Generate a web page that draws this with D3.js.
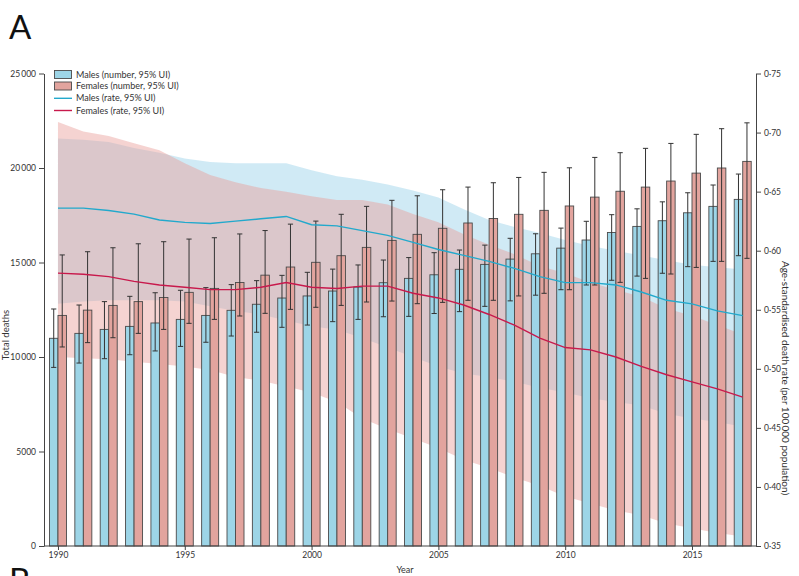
<!DOCTYPE html>
<html>
<head>
<meta charset="utf-8">
<script src="https://cdn.jsdelivr.net/npm/d3@7"></script>
<style>
  body { margin: 0; background: #fff; }
  svg { display: block; font-family: Lato, "Noto Sans", sans-serif; }
</style>
</head>
<body>
<svg id="chart" width="799" height="576"></svg>
<script>
// Years on the x axis
const years = [1990, 1991, 1992, 1993, 1994, 1995, 1996, 1997, 1998, 1999,
               2000, 2001, 2002, 2003, 2004, 2005, 2006, 2007, 2008, 2009,
               2010, 2011, 2012, 2013, 2014, 2015, 2016, 2017];
const yearTicks = [1990, 1995, 2000, 2005, 2010, 2015];

// Total deaths, males (estimate and 95% UI)
const maleDeaths = [10990, 11250, 11460, 11620, 11800, 11990, 12200, 12470, 12790, 13120,
                    13230, 13490, 13700, 13930, 14160, 14350, 14640, 14900, 15180, 15460,
                    15760, 16190, 16590, 16910, 17210, 17630, 17970, 18340];
const maleDeathsLower = [9450, 9680, 9910, 10120, 10320, 10560, 10780, 11110, 11310, 11570,
                         11690, 11870, 11990, 12130, 12150, 12300, 12400, 12680, 12970, 13270,
                         13560, 13810, 14060, 14280, 14430, 14780, 15060, 15360];
const maleDeathsUpper = [12540, 12750, 12930, 13210, 13400, 13530, 13670, 13830, 14040, 14320,
                         14480, 14650, 14870, 15130, 15260, 15520, 15660, 15920, 16280, 16520,
                         16820, 17180, 17530, 17840, 18210, 18690, 19100, 19680];

// Total deaths, females (estimate and 95% UI)
const femaleDeaths = [12200, 12480, 12730, 12930, 13150, 13420, 13630, 13940, 14330, 14760,
                      15010, 15360, 15800, 16170, 16490, 16810, 17090, 17330, 17550, 17760,
                      17990, 18460, 18770, 18990, 19310, 19730, 20000, 20350];
const femaleDeathsLower = [10530, 10760, 11020, 11250, 11460, 11780, 11990, 12170, 12310, 12520,
                           12630, 12730, 12910, 12960, 12820, 12890, 13000, 13000, 13230, 13370,
                           13560, 13810, 13950, 14160, 14390, 14740, 15060, 15220];
const femaleDeathsUpper = [15400, 15570, 15780, 15990, 16100, 16240, 16310, 16510, 16690, 17030,
                           17190, 17550, 17970, 18290, 18530, 18850, 18990, 19220, 19500, 19770,
                           20010, 20560, 20810, 21040, 21300, 21780, 22080, 22390];

// Age-standardised death rate per 100 000, males
const maleRate = [0.636, 0.636, 0.634, 0.631, 0.626, 0.624, 0.623, 0.625, 0.627, 0.629,
                  0.622, 0.621, 0.617, 0.613, 0.607, 0.601, 0.596, 0.591, 0.585, 0.578,
                  0.573, 0.573, 0.571, 0.565, 0.558, 0.555, 0.549, 0.545];
const maleRateLower = [0.555, 0.557, 0.558, 0.558, 0.558, 0.557, 0.553, 0.549, 0.546, 0.541,
                       0.536, 0.533, 0.526, 0.518, 0.510, 0.502, 0.496, 0.493, 0.489, 0.484,
                       0.480, 0.475, 0.472, 0.469, 0.462, 0.458, 0.455, 0.451];
const maleRateUpper = [0.695, 0.694, 0.692, 0.687, 0.683, 0.678, 0.675, 0.674, 0.674, 0.674,
                       0.668, 0.663, 0.660, 0.656, 0.651, 0.645, 0.635, 0.626, 0.620, 0.615,
                       0.609, 0.604, 0.600, 0.596, 0.592, 0.588, 0.586, 0.584];

// Age-standardised death rate per 100 000, females
const femaleRate = [0.581, 0.580, 0.578, 0.574, 0.571, 0.569, 0.567, 0.567, 0.569, 0.573,
                    0.569, 0.568, 0.570, 0.570, 0.564, 0.560, 0.554, 0.546, 0.537, 0.526,
                    0.518, 0.516, 0.510, 0.502, 0.495, 0.489, 0.483, 0.476];
const femaleRateLower = [0.510, 0.509, 0.508, 0.506, 0.504, 0.502, 0.499, 0.493, 0.490, 0.485,
                         0.480, 0.472, 0.458, 0.449, 0.441, 0.433, 0.423, 0.416, 0.408, 0.401,
                         0.392, 0.386, 0.380, 0.376, 0.369, 0.365, 0.361, 0.358];
const femaleRateUpper = [0.709, 0.701, 0.697, 0.691, 0.685, 0.674, 0.664, 0.658, 0.653, 0.650,
                         0.646, 0.643, 0.643, 0.639, 0.631, 0.624, 0.614, 0.605, 0.597, 0.587,
                         0.581, 0.573, 0.567, 0.561, 0.551, 0.545, 0.537, 0.529];

// Axis ticks
const deathTicks = [0, 5000, 10000, 15000, 20000, 25000];
const rateTicks = [0.35, 0.40, 0.45, 0.50, 0.55, 0.60, 0.65, 0.70, 0.75];

// Legend entries
const legendItems = [
  { label: "Males (number, 95% UI)", kind: "box", key: "male" },
  { label: "Females (number, 95% UI)", kind: "box", key: "female" },
  { label: "Males (rate, 95% UI)", kind: "line", key: "male" },
  { label: "Females (rate, 95% UI)", kind: "line", key: "female" }
];

const colors = {
  maleBar: "#9dd5e7", femaleBar: "#e2a49e",
  maleBand: "rgb(150,208,232)", femaleBand: "rgb(233,158,154)",
  maleLine: "#22a9cc", femaleLine: "#c8194c",
  barStroke: "#4a4a4a", err: "#333", axis: "#444", text: "#333"
};

const svg = d3.select("#chart");
const plot = { left: 44, right: 756, top: 73.5, bottom: 546 };

const xBand = d3.scaleBand().domain(years)
  .range([45.3, 755.4]).paddingInner(0.33).paddingOuter(0.165);
const half = xBand.bandwidth() / 2;
const xYear = d3.scaleLinear().domain([years[0], years[years.length - 1]])
  .range([xBand(years[0]) + half, xBand(years[years.length - 1]) + half]);
const yDeaths = d3.scaleLinear().domain([0, 25000]).range([plot.bottom, plot.top]);
const yRate = d3.scaleLinear().domain([0.35, 0.75]).range([plot.bottom, plot.top]);

// Uncertainty bands for the rates
function band(lower, upper) {
  return d3.area()
    .x((d, i) => xYear(years[i]))
    .y0((d, i) => yRate(lower[i]))
    .y1((d, i) => yRate(upper[i]))(years);
}
svg.append("path").attr("d", band(maleRateLower, maleRateUpper))
  .attr("fill", colors.maleBand).attr("fill-opacity", 0.45);
svg.append("path").attr("d", band(femaleRateLower, femaleRateUpper))
  .attr("fill", colors.femaleBand).attr("fill-opacity", 0.45);

// Bars
const series = [
  { vals: maleDeaths, lo: maleDeathsLower, hi: maleDeathsUpper, fill: colors.maleBar, off: 0 },
  { vals: femaleDeaths, lo: femaleDeathsLower, hi: femaleDeathsUpper, fill: colors.femaleBar, off: half }
];
series.forEach(s => {
  svg.append("g").selectAll("rect").data(years).join("rect")
    .attr("x", d => xBand(d) + s.off)
    .attr("width", half)
    .attr("y", (d, i) => yDeaths(s.vals[i]))
    .attr("height", (d, i) => yDeaths(0) - yDeaths(s.vals[i]))
    .attr("fill", s.fill)
    .attr("stroke", colors.barStroke).attr("stroke-width", 0.9);
});

// Error bars
series.forEach(s => {
  const g = svg.append("g").attr("stroke", colors.err).attr("stroke-width", 1).attr("fill", "none");
  years.forEach((yr, i) => {
    const cx = xBand(yr) + s.off + half / 2;
    const y1 = yDeaths(s.lo[i]), y2 = yDeaths(s.hi[i]);
    g.append("line").attr("x1", cx).attr("x2", cx).attr("y1", y1).attr("y2", y2);
    g.append("line").attr("x1", cx - 2.6).attr("x2", cx + 2.6).attr("y1", y1).attr("y2", y1);
    g.append("line").attr("x1", cx - 2.6).attr("x2", cx + 2.6).attr("y1", y2).attr("y2", y2);
  });
});

// Rate lines
function rateLine(vals) {
  return d3.line().x((d, i) => xYear(years[i])).y((d, i) => yRate(vals[i]))(years);
}
svg.append("path").attr("d", rateLine(maleRate)).attr("fill", "none")
  .attr("stroke", colors.maleLine).attr("stroke-width", 1.4);
svg.append("path").attr("d", rateLine(femaleRate)).attr("fill", "none")
  .attr("stroke", colors.femaleLine).attr("stroke-width", 1.4);

// Axes
function styleAxis(g) {
  g.selectAll("path, line").attr("stroke", colors.axis).attr("stroke-width", 1);
  g.selectAll("text").attr("fill", colors.text).style("font-size", "8.5px")
    .style("font-family", "Lato, 'Noto Sans', sans-serif");
}
const fmtDeaths = d => d >= 10000 ? d3.format(",")(d).replace(",", "\u2009") : String(d);
svg.append("g").attr("transform", `translate(${plot.left},0)`)
  .call(d3.axisLeft(yDeaths).tickValues(deathTicks).tickSize(5).tickSizeOuter(0).tickFormat(fmtDeaths))
  .call(styleAxis);
svg.append("g").attr("transform", `translate(${plot.right},0)`)
  .call(d3.axisRight(yRate).tickValues(rateTicks).tickSize(5).tickSizeOuter(0)
    .tickFormat(d => d3.format(".2f")(d).replace(".", "\u00b7")))
  .call(styleAxis);
svg.append("line").attr("x1", plot.left).attr("x2", plot.right)
  .attr("y1", plot.bottom).attr("y2", plot.bottom)
  .attr("stroke", colors.axis).attr("stroke-width", 1);
const xAxis = svg.append("g").attr("transform", `translate(0,${plot.bottom})`)
  .call(d3.axisBottom(xYear).tickValues(yearTicks).tickSize(4).tickSizeOuter(0).tickFormat(d3.format("d")))
  .call(styleAxis);
xAxis.select(".domain").remove();
xAxis.selectAll("text").attr("dy", "0.6em");

// Axis titles
svg.append("text").attr("x", 405).attr("y", 573).attr("text-anchor", "middle")
  .attr("fill", colors.text).style("font-size", "9px").text("Year");
svg.append("text").attr("transform", "translate(9,335) rotate(-90)").attr("text-anchor", "middle")
  .attr("fill", colors.text).style("font-size", "9.5px").text("Total deaths");
svg.append("text").attr("transform", "translate(782,378) rotate(90)").attr("text-anchor", "middle")
  .attr("fill", colors.text).style("font-size", "10px")
  .text("Age-standardised death rate (per 100\u2009000 population)");

// Panel letters
svg.append("text").attr("x", 9).attr("y", 39).attr("fill", "#111")
  .style("font-size", "33px").text("A");
svg.append("text").attr("x", 9).attr("y", 592).attr("fill", "#111")
  .style("font-size", "33px").text("B");

// Legend
const legend = svg.append("g").attr("transform", "translate(54,0)");
const rowY = [74.5, 86, 98.3, 110.5];
legendItems.forEach((item, i) => {
  const y = rowY[i];
  if (item.kind === "box") {
    legend.append("rect").attr("x", 0.5).attr("y", y - 4).attr("width", 17).attr("height", 8)
      .attr("fill", item.key === "male" ? colors.maleBar : colors.femaleBar)
      .attr("stroke", colors.barStroke).attr("stroke-width", 0.9);
  } else {
    legend.append("line").attr("x1", 0).attr("x2", 18).attr("y1", y).attr("y2", y)
      .attr("stroke", item.key === "male" ? colors.maleLine : colors.femaleLine).attr("stroke-width", 1.4);
  }
  legend.append("text").attr("x", 22).attr("y", y).attr("dy", "0.35em")
    .attr("fill", colors.text).style("font-size", "9px").text(item.label);
});
</script>
</body>
</html>
